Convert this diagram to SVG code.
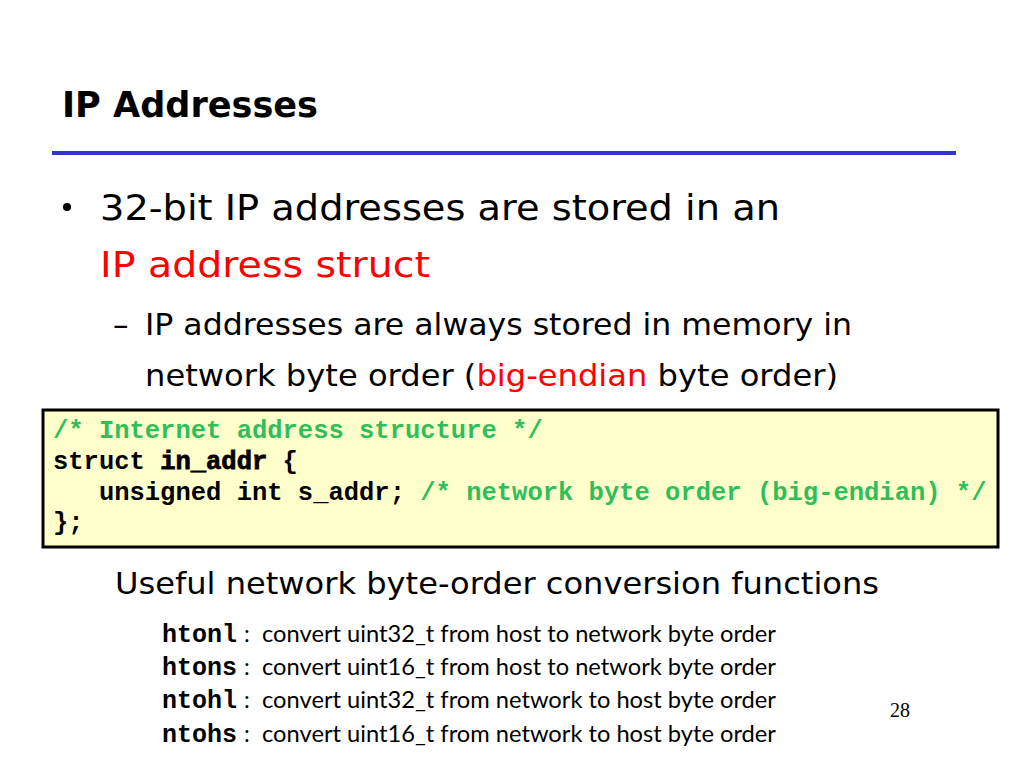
<svg xmlns="http://www.w3.org/2000/svg" width="1024" height="768" viewBox="0 0 1024 768">
<style>
.comic{font-family:"DejaVu Sans","Noto Sans",sans-serif;fill:#000}
.red{fill:#ff0000}
.code{font-family:"Liberation Mono","DejaVu Sans Mono",monospace;font-weight:bold;font-size:25.5px;fill:#000}
.cm{fill:#2fbf5a}
.fn{font-family:"Liberation Mono","DejaVu Sans Mono",monospace;font-weight:bold;font-size:25px;fill:#000}
.desc{font-family:Lato,"Open Sans",sans-serif;font-size:23px;fill:#000}
</style>
<rect width="1024" height="768" fill="#ffffff"/>
<g id="title">
<text class="comic" x="62" y="117" font-size="35" font-weight="bold" textLength="256" lengthAdjust="spacingAndGlyphs">IP Addresses</text>
<line x1="52" y1="153" x2="956" y2="153" stroke="#3333cc" stroke-width="4"/>
</g>
<g id="bullets">
<circle cx="67" cy="207" r="4" fill="#000"/>
<text class="comic" x="100" y="220" font-size="35" textLength="680" lengthAdjust="spacingAndGlyphs">32-bit IP addresses are stored in an</text>
<text class="comic red" x="100" y="277" font-size="35" textLength="330" lengthAdjust="spacingAndGlyphs">IP address struct</text>
<text class="comic" x="113" y="335" font-size="31">–</text>
<text class="comic" x="145" y="335" font-size="31" textLength="707" lengthAdjust="spacingAndGlyphs">IP addresses are always stored in memory in</text>
<text class="comic" x="145" y="386" font-size="31" textLength="693" lengthAdjust="spacingAndGlyphs">network byte order (<tspan class="red">big-endian</tspan> byte order)</text>
</g>
<g id="codebox">
<rect x="43" y="410" width="955" height="137" fill="#ffffcc" stroke="#000" stroke-width="3"/>
<text class="code cm" x="53" y="438" xml:space="preserve">/* Internet address structure */</text>
<text class="code" x="53" y="469" xml:space="preserve">struct <tspan stroke="#000" stroke-width="0.8">in_addr</tspan> {</text>
<text class="code" x="53" y="500" xml:space="preserve">   unsigned int s_addr; <tspan class="cm">/* network byte order (big-endian) */</tspan></text>
<text class="code" x="53" y="530">};</text>
</g>
<g id="functions">
<text class="comic" x="115" y="594" font-size="31" textLength="764" lengthAdjust="spacingAndGlyphs">Useful network byte-order conversion functions</text>
<text class="fn" x="162" y="642">htonl</text><text class="desc" x="244" y="642">:</text>
<text class="desc" x="262" y="642" textLength="514" lengthAdjust="spacingAndGlyphs">convert uint32_t from host to network byte order</text>
<text class="fn" x="162" y="675">htons</text><text class="desc" x="244" y="675">:</text>
<text class="desc" x="262" y="675" textLength="514" lengthAdjust="spacingAndGlyphs">convert uint16_t from host to network byte order</text>
<text class="fn" x="162" y="708">ntohl</text><text class="desc" x="244" y="708">:</text>
<text class="desc" x="262" y="708" textLength="514" lengthAdjust="spacingAndGlyphs">convert uint32_t from network to host byte order</text>
<text class="fn" x="162" y="742">ntohs</text><text class="desc" x="244" y="742">:</text>
<text class="desc" x="262" y="742" textLength="514" lengthAdjust="spacingAndGlyphs">convert uint16_t from network to host byte order</text>
</g>
<text id="page" x="890" y="717" font-family="Liberation Serif,serif" font-size="20" fill="#000">28</text>
</svg>
